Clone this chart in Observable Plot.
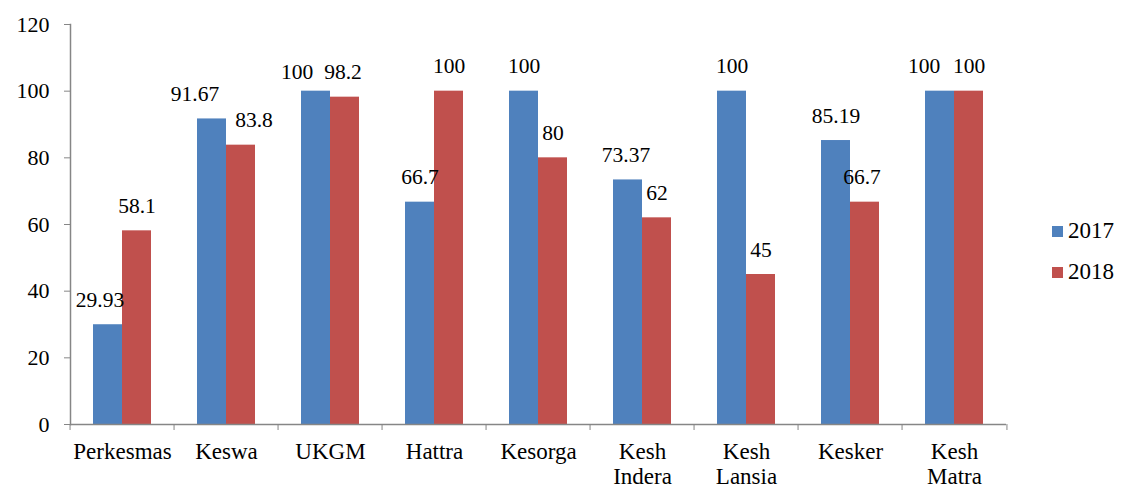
<!DOCTYPE html>
<html>
<head>
<meta charset="utf-8">
<script src="https://cdn.jsdelivr.net/npm/d3@7"></script>
<script src="https://cdn.jsdelivr.net/npm/@observablehq/plot@0.6"></script>
<style>
  html, body { margin: 0; padding: 0; background: #fff; }
  #wrap { position: relative; width: 1123px; height: 488px; font-family: "Liberation Serif", "Times New Roman", serif; }
  #wrap svg, #wrap svg text { font-family: "Liberation Serif", "Times New Roman", serif !important; }
  #legend { position: absolute; left: 1052px; top: 216px; font-size: 23px; color: #000; }
  .row { display: flex; align-items: center; height: 30px; margin-bottom: 11px; }
  .sw { width: 11px; height: 11px; margin-right: 5px; }
</style>
</head>
<body>
<div id="wrap"><div id="legend"></div></div>
<script>
const categories = ["Perkesmas", "Keswa", "UKGM", "Hattra", "Kesorga", "Kesh\nIndera", "Kesh\nLansia", "Kesker", "Kesh\nMatra"];
const years = ["2017", "2018"];
const values2017 = [29.93, 91.67, 100, 66.7, 100, 73.37, 100, 85.19, 100];
const values2018 = [58.1, 83.8, 98.2, 100, 80, 62, 45, 66.7, 100];
const yTicks = [0, 20, 40, 60, 80, 100, 120];
const colors = ["#4F81BD", "#C0504D"];
// small nudges of value labels (as in the original, to avoid overlaps)
const labelNudgeX2017 = [-8, -17, -19, 0, 0, -2, 0, 0, -16];
const labelNudgeX2018 = [0, 13, -2, 0, 0, 0, 0, -3, 0];
const labelNudgeY2017 = [0, 0, 6, 0, 0, 0, 0, 0, 0];
const labelNudgeY2018 = [0, 0, 0, 0, 0, 0, 0, 0, 0];

const W = 1123, H = 488, ML = 66, MR = 113, MT = 24, MB = 64;
const bw = (W - ML - MR) / categories.length;

const data = [];
categories.forEach((c, i) => {
  data.push({cat: c, year: years[0], value: values2017[i], nx: labelNudgeX2017[i], ny: labelNudgeY2017[i]});
  data.push({cat: c, year: years[1], value: values2018[i], nx: labelNudgeX2018[i], ny: labelNudgeY2018[i]});
});

const gray = "#868686";

const labelMarks = data.map(d => Plot.text([d], {
  fx: "cat", x: "year", y: "value", text: v => String(v.value),
  lineAnchor: "bottom", dy: -18 + d.ny, dx: d.nx, fontSize: 21.5, fill: "#000"
}));

const chart = Plot.plot({
  width: W, height: H,
  marginLeft: ML, marginRight: MR, marginTop: MT, marginBottom: MB,
  style: {fontSize: "22px", color: "#000", background: "#fff"},
  fx: {domain: categories, padding: 0, label: null},
  x: {domain: years, paddingInner: 0, paddingOuter: 0.75, axis: null},
  y: {domain: [0, 120], label: null},
  color: {domain: years, range: colors},
  marks: [
    Plot.barY(data, {fx: "cat", x: "year", y: "value", fill: "year"}),
    Plot.ruleY([0], {stroke: gray, strokeWidth: 1.5}),
    Plot.frame({anchor: "left", facetAnchor: "left", stroke: gray, strokeWidth: 1.5}),
    Plot.axisY({ticks: yTicks, tickSize: 6, tickPadding: 15, stroke: gray, fill: "#000", fontSize: 22, label: null}),
    Plot.axisFx({anchor: "bottom", tickSize: 6, tickFormat: () => "", dx: -bw / 2, stroke: gray, label: null}),
    Plot.axisFx({anchor: "bottom", ticks: [categories[categories.length - 1]], tickSize: 6, tickFormat: () => "", dx: bw / 2, stroke: gray, label: null}),
    Plot.axisFx({anchor: "bottom", tickSize: 0, tickPadding: 17, fontSize: 23, lineHeight: 1.08, fill: "#000", label: null}),
    ...labelMarks
  ]
});
document.getElementById("wrap").prepend(chart);

const legend = document.getElementById("legend");
years.forEach((y, i) => {
  const row = document.createElement("div");
  row.className = "row";
  row.innerHTML = `<div class="sw" style="background:${colors[i]}"></div><span>${y}</span>`;
  legend.appendChild(row);
});
</script>
</body>
</html>
